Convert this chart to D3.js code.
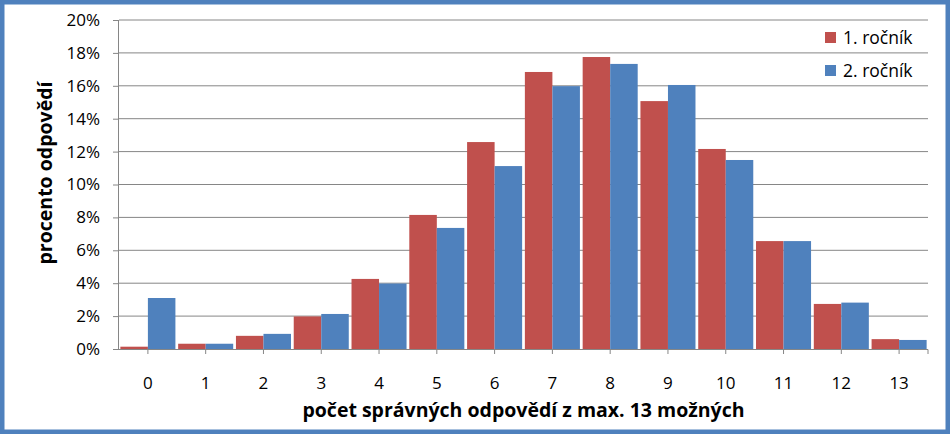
<!DOCTYPE html>
<html>
<head>
<meta charset="utf-8">
<script src="https://cdn.jsdelivr.net/npm/d3@7"></script>
<style>
  body { margin: 0; background: #fff; overflow: hidden; }
  svg { display: block; }
</style>
</head>
<body>
<svg id="chart"></svg>
<script>
// Data
const categories = ["0", "1", "2", "3", "4", "5", "6", "7", "8", "9", "10", "11", "12", "13"];
const seriesNames = ["1. ročník", "2. ročník"];
const rocnik1 = [0.14, 0.32, 0.80, 1.98, 4.26, 8.15, 12.58, 16.84, 17.75, 15.07, 12.16, 6.56, 2.74, 0.60];
const rocnik2 = [3.10, 0.32, 0.92, 2.13, 3.98, 7.36, 11.12, 15.98, 17.33, 16.05, 11.49, 6.56, 2.82, 0.55];
const yTicks = [0, 2, 4, 6, 8, 10, 12, 14, 16, 18, 20];
const colors = ["#C0504D", "#4F81BD"];
const font = "'Open Sans', Lato, sans-serif";

const width = 950, height = 434;
const margin = {top: 20, right: 22, bottom: 85, left: 119};
const innerWidth = width - margin.left - margin.right;
const innerHeight = height - margin.top - margin.bottom;

const svg = d3.select("#chart")
  .attr("width", width)
  .attr("height", height)
  .attr("font-family", font);

const g = svg.append("g")
  .attr("transform", `translate(${margin.left},${margin.top})`);

const x = d3.scaleBand(categories, [0, innerWidth]);
const xInner = d3.scaleBand([0, 1], [0, x.bandwidth()]).paddingOuter(0.05);
const y = d3.scaleLinear([0, 20], [innerHeight, 0]);

// gridlines
g.append("g")
  .selectAll("line")
  .data(yTicks.filter(d => d > 0))
  .join("line")
  .attr("x1", 0).attr("x2", innerWidth)
  .attr("y1", d => y(d)).attr("y2", d => y(d))
  .attr("stroke", "#868686")
  .attr("stroke-width", 1);

// bars
const data = [rocnik1, rocnik2];
data.forEach((series, s) => {
  g.append("g")
    .selectAll("rect")
    .data(series)
    .join("rect")
    .attr("x", (d, i) => x(categories[i]) + xInner(s))
    .attr("y", d => y(d))
    .attr("width", xInner.bandwidth())
    .attr("height", d => y(0) - y(d))
    .attr("fill", colors[s]);
});

// y axis
const yAxis = g.append("g")
  .call(d3.axisLeft(y).tickValues(yTicks).tickSize(6).tickPadding(13)
    .tickFormat(d => d + "%"))
  .attr("font-family", font)
  .attr("font-size", 17);
yAxis.select(".domain").attr("stroke", "#868686").attr("d", `M-0.5,${y(0)}V${y(20)}`);
yAxis.selectAll(".tick line").attr("stroke", "#868686");
yAxis.selectAll(".tick text").attr("fill", "#000");

// x axis
const xAxis = g.append("g")
  .attr("transform", `translate(0,${innerHeight})`)
  .call(d3.axisBottom(x).tickSize(5).tickPadding(23))
  .attr("font-family", font)
  .attr("font-size", 17);
xAxis.select(".domain").attr("stroke", "#868686").attr("d", `M0,0.5H${innerWidth}V5`);
xAxis.selectAll(".tick line").attr("stroke", "#868686");
xAxis.selectAll(".tick text").attr("fill", "#000");

// axis titles
svg.append("text")
  .attr("x", margin.left + innerWidth / 2)
  .attr("y", 417)
  .attr("text-anchor", "middle")
  .attr("font-size", 19.5)
  .attr("font-weight", "bold")
  .text("počet správných odpovědí z max. 13 možných");

svg.append("text")
  .attr("transform", "translate(52,173) rotate(-90)")
  .attr("text-anchor", "middle")
  .attr("font-size", 19.5)
  .attr("font-weight", "bold")
  .text("procento odpovědí");

// legend
const legend = svg.append("g")
  .attr("transform", "translate(825,32)");
seriesNames.forEach((name, i) => {
  const item = legend.append("g").attr("transform", `translate(0,${i * 33})`);
  item.append("rect")
    .attr("width", 11).attr("height", 11)
    .attr("fill", colors[i]);
  item.append("text")
    .attr("x", 18).attr("y", 11.5)
    .attr("font-size", 17.5)
    .text(name);
});

// outer frame, drawn last
svg.append("rect")
  .attr("x", 2).attr("y", 2)
  .attr("width", width - 4).attr("height", height - 4)
  .attr("fill", "none")
  .attr("stroke", "#4F81BD")
  .attr("stroke-width", 5);
</script>
</body>
</html>
